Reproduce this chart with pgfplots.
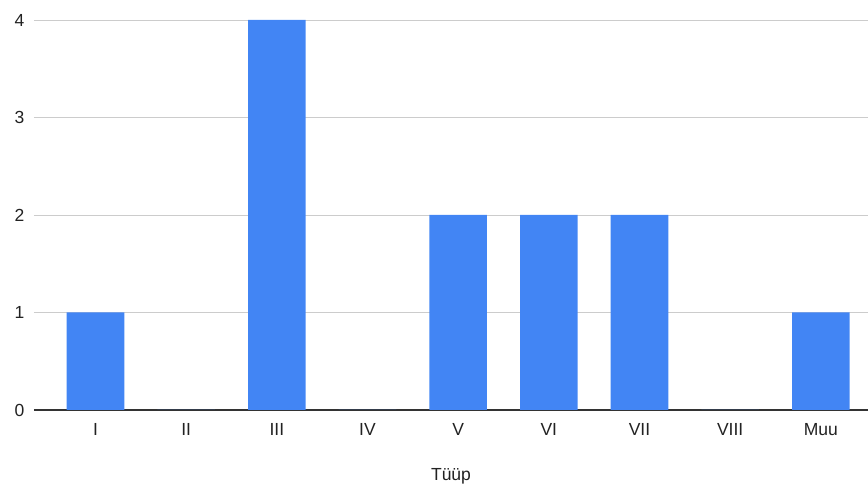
\documentclass[border=0pt]{standalone}
\usepackage{pgfplots}
\pgfplotsset{compat=1.18}
\usepackage{fontspec}
\setmainfont{Liberation Sans}
\definecolor{barblue}{HTML}{4285F4}
\definecolor{gridgray}{HTML}{CCCCCC}
\definecolor{axisdark}{HTML}{333333}
\definecolor{txt}{HTML}{222222}
\begin{document}
\begin{tikzpicture}
\begin{axis}[
  name=ax,
  scale only axis,
  width=834pt, height=390pt,
  xmin=-0.678, xmax=8.52,
  ymin=0, ymax=4,
  axis x line*=bottom,
  axis y line*=left,
  y axis line style={draw=none},
  x axis line style={axisdark, line width=1.2pt, -},
  xtick={0,1,2,3,4,5,6,7,8},
  xticklabels={I,II,III,IV,V,VI,VII,VIII,Muu},
  ytick={0,1,2,3,4},
  yticklabels={},
  ymajorgrids,
  grid style={gridgray, line width=0.9pt},
  major tick length=0pt,
  tick style={draw=none},
  ybar, bar width=0.635,
  /pgf/number format/assume math mode=true,
  tick label style={font=\fontsize{17.5}{20}\selectfont, text=txt},
  xticklabel style={yshift=-10pt},
  xlabel={Tüüp},
  xlabel style={font=\fontsize{17.5}{20}\selectfont, text=txt, yshift=-26pt},
  clip=false,
]
\addplot[fill=barblue, draw=none] coordinates {(0,1) (1,0) (2,4) (3,0) (4,2) (5,2) (6,2) (7,0) (8,1)};
\end{axis}
\foreach \v in {0,1,2,3,4} {
  \path (ax.south west) ++(-9.5pt,{\v*390/4*1pt}) node[anchor=east, inner sep=0pt, font=\fontsize{17.5}{20}\selectfont, text=txt] {\v};
}
\pgfresetboundingbox
\path ([xshift=-34pt,yshift=-74pt]ax.south west) rectangle ([yshift=20pt]ax.north east);
\end{tikzpicture}
\end{document}
